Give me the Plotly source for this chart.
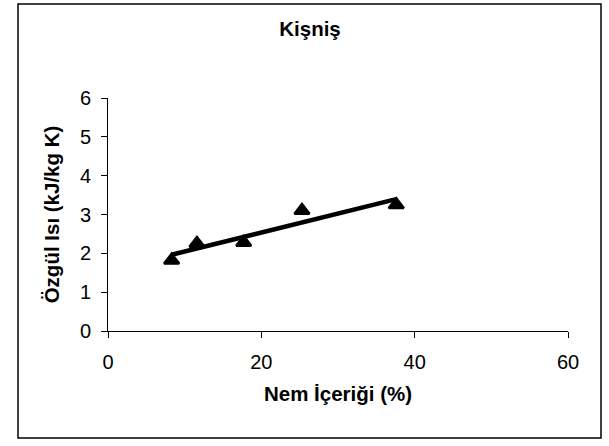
import numpy as np
import plotly.graph_objects as go

# Moisture content (%) and specific heat (kJ/kg K) for coriander
moisture = [8.3, 11.6, 17.7, 25.3, 37.6]
specific_heat = [1.82, 2.25, 2.28, 3.10, 3.25]

x_ticks = [0, 20, 40, 60]
y_ticks = [0, 1, 2, 3, 4, 5, 6]

# Linear trend line over the measured range
slope, intercept = np.polyfit(moisture, specific_heat, 1)
trend_x = [min(moisture), max(moisture)]
trend_y = [slope * v + intercept for v in trend_x]

FONT = "Liberation Sans, Arial, sans-serif"

W, H = 609, 446
L, R, T, B = 108, 41, 98, 115
plot_w = W - L - R
plot_h = H - T - B

fig = go.Figure()
fig.add_trace(go.Scatter(
    x=trend_x, y=trend_y, mode="lines",
    line=dict(color="black", width=4.5),
    showlegend=False, hoverinfo="skip",
))
fig.add_trace(go.Scatter(
    x=moisture, y=specific_heat, mode="markers",
    marker=dict(symbol="triangle-up", size=13, color="black",
                line=dict(color="black", width=2.5)),
    showlegend=False,
))

axis_common = dict(
    showline=True, linecolor="black", linewidth=1,
    ticks="outside", ticklen=6, tickcolor="black", tickwidth=1,
    showgrid=False, zeroline=False,
    tickfont=dict(family=FONT, size=20, color="black"),
)

fig.update_xaxes(
    range=[0, 60], tickvals=x_ticks, ticklabelstandoff=7, **axis_common,
    title=dict(text="<b>Nem İçeriği (%)</b>",
               font=dict(family=FONT, size=20.5, color="black"), standoff=14),
)
fig.update_yaxes(
    range=[0, 6], tickvals=y_ticks, ticklabelstandoff=6, **axis_common,
    title=dict(text="<b>Özgül Isı (kJ/kg K)</b>",
               font=dict(family=FONT, size=20.5, color="black"), standoff=14),
)

# Chart-area border
def px_x(p):
    return (p - L) / plot_w

def px_y(p):
    return (H - B - p) / plot_h

fig.add_shape(type="rect", xref="paper", yref="paper",
              x0=px_x(18), x1=px_x(601), y0=px_y(438), y1=px_y(4),
              line=dict(color="black", width=1.5), fillcolor="rgba(0,0,0,0)")

fig.update_layout(
    width=W, height=H,
    margin=dict(l=L, r=R, t=T, b=B),
    paper_bgcolor="white", plot_bgcolor="white",
    title=dict(text="<b>Kişniş</b>", font=dict(family=FONT, size=20.5, color="black"),
               x=310 / W, xanchor="center", xref="container",
               y=1 - 29 / H, yanchor="middle", yref="container"),
)

fig.write_html("out.html")
